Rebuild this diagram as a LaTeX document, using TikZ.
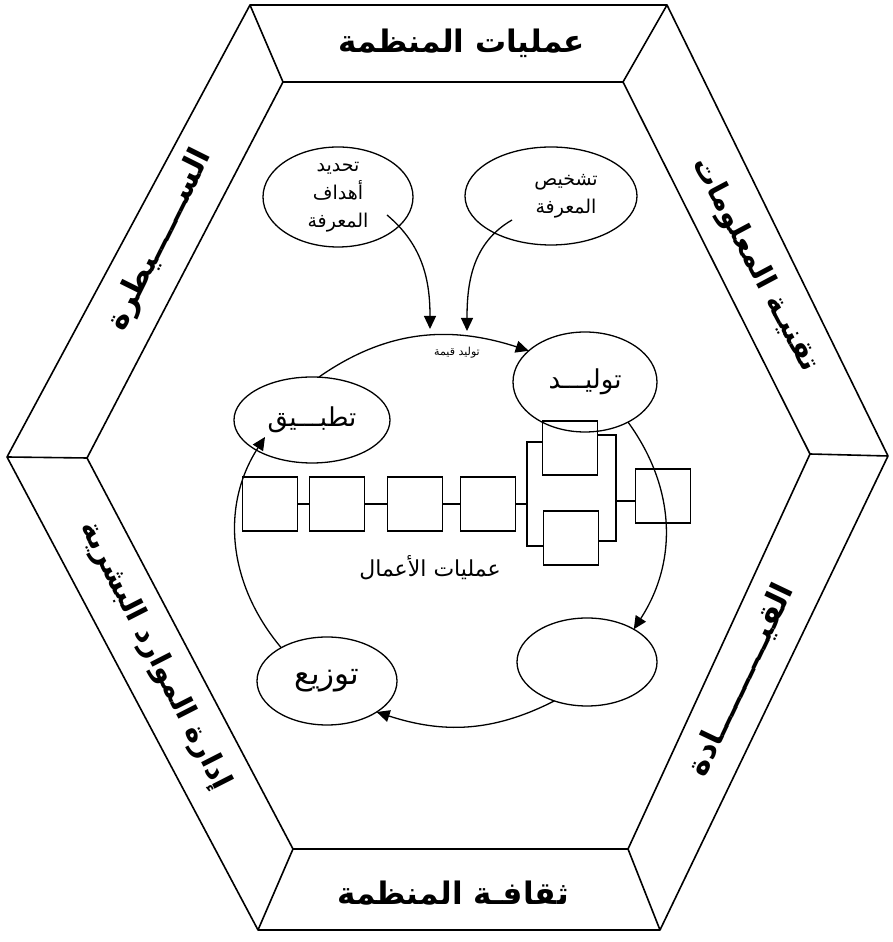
\documentclass[tikz,border=0pt]{standalone}
\usepackage{fontspec}
\newfontfamily\arabicfont[Script=Arabic]{DejaVu Sans}
\TeXXeTstate=1
\usetikzlibrary{arrows.meta,shapes.geometric}

\begin{document}
\begin{tikzpicture}[x=1pt,y=1pt,
    frame/.style={line width=1.6pt,line join=round},
    stage/.style={draw,ellipse,line width=1.3pt,inner sep=0pt,outer sep=0pt,align=center,
        font=\arabicfont\fontsize{19}{28}\selectfont},
    bigtext/.style={font=\arabicfont\fontsize{26}{28}\selectfont},
    proc/.style={draw,line width=1.2pt,minimum width=55pt,minimum height=54pt,inner sep=0pt,outer sep=0pt},
    band/.style={font=\arabicfont\bfseries\fontsize{31}{33}\selectfont,inner sep=0pt},
    flow/.style={-{Triangle[length=13pt,width=12pt]},line width=1.3pt},
    link/.style={line width=1.2pt},
    note/.style={font=\arabicfont\fontsize{22}{24}\selectfont,inner sep=0pt}]
\useasboundingbox (0,0) rectangle (892,942);

% hexagonal frame
\coordinate (o1) at (250,937);
\coordinate (o2) at (667,937);
\coordinate (o3) at (888,486);
\coordinate (o4) at (660,12);
\coordinate (o5) at (258,12);
\coordinate (o6) at (7,485);
\coordinate (i1) at (283,860);
\coordinate (i2) at (623,860);
\coordinate (i3) at (810,488);
\coordinate (i4) at (628,93);
\coordinate (i5) at (293,93);
\coordinate (i6) at (87,484);
\draw[frame] (o1) -- (o2) -- (o3) -- (o4) -- (o5) -- (o6) -- cycle;
\draw[frame] (i1) -- (i2) -- (i3) -- (i4) -- (i5) -- (i6) -- cycle;
\foreach \k in {1,...,6}
    \draw[frame] (o\k) -- (i\k);

% labels on the frame
\node[band] (ops) at (462,899) {\beginR عمليات المنظمة\endR};
\node[band] (culture) at (453,49) {\beginR ثقافـة المنظمة\endR};
\node[band,rotate=-62,font=\arabicfont\bfseries\fontsize{29}{31}\selectfont] (itech) at (755,677) {\beginR تقنيـة المعلومات\endR};
\node[band,rotate=63.5] (control) at (160,702) {\beginR الســــــيطرة\endR};
\node[band,rotate=-63,font=\arabicfont\bfseries\fontsize{29}{31}\selectfont] (hrm) at (155,286) {\beginR إدارة الموارد البشرية\endR};
\node[band,rotate=64.5] (lead) at (741,262) {\beginR القيــــــــــادة\endR};

% knowledge stages
\node[stage,minimum width=150pt,minimum height=100pt] (tahdid) at (338,745)
    {\beginR تحديد\endR\\\beginR أهداف\endR\\\beginR المعرفة\endR};
\node[stage,minimum width=172pt,minimum height=98pt] (tashkhis) at (551,746)
    {\beginR تشخيص\endR\hspace*{-30pt}\\\beginR المعرفة\endR\hspace*{-30pt}};
\node[stage,bigtext,minimum width=156pt,minimum height=86pt] (tatbiq) at (312,522)
    {\beginR تطبـــيق\endR};
\node[stage,bigtext,minimum width=144pt,minimum height=100pt] (tawlid) at (585,560)
    {\beginR توليـــد\endR};
\node[stage,minimum width=140pt,minimum height=88pt] (blank) at (587,280) {};
\node[stage,minimum width=140pt,minimum height=88pt,font=\arabicfont\fontsize{31}{33}\selectfont] (tawzi) at (327,261)
    {\beginR توزيع\endR};

% business process chain
\node[proc] (b1) at (270,438) {};
\node[proc] (b2) at (337,438) {};
\node[proc] (b3) at (415,438) {};
\node[proc] (b4) at (488,438) {};
\node[proc] (b5) at (570,494) {};
\node[proc] (b6) at (571,404) {};
\node[proc] (b7) at (663,446) {};
\coordinate (jl) at (527,438);
\coordinate (jr) at (616,441);
\draw[link] (b1) -- (b2);
\draw[link] (b2) -- (b3);
\draw[link] (b3) -- (b4);
\draw[link] (b4) -- (jl);
\draw[link] ([yshift=6]b5.west) -| (jl) |- ([yshift=-8]b6.west);
\draw[link] ([yshift=13]b5.east) -| (jr) |- ([yshift=-3]b6.east);
\draw[link] (jr) -- (jr -| b7.west);
\node[note] (process) at (430,374) {\beginR عمليات الأعمال\endR};

% value cycle
\draw[flow] (tatbiq.81) to[out=35,in=162] (tawlid.151);
\node[font=\arabicfont\fontsize{11}{12}\selectfont,inner sep=0pt] (value) at (457,589) {\beginR توليد قيمة\endR};
\draw[flow] (tawlid.-43) to[out=-54,in=57] (blank.35);
\draw[flow] (blank.-130) to[out=-153,in=-18] (tawzi.-32);
\draw[flow] (tawzi.144) to[out=130,in=-123] ([shift={(-47,-17)}]tatbiq.center);

% inputs into the cycle
\coordinate (v1) at (430,613);
\coordinate (v2) at (467,611);
\draw[flow] ([shift={(49,-18)}]tahdid.center) to[out=-40,in=90] (v1);
\draw[flow] ([shift={(-39,-24)}]tashkhis.center) to[out=-150,in=90] (v2);
\end{tikzpicture}
\end{document}
